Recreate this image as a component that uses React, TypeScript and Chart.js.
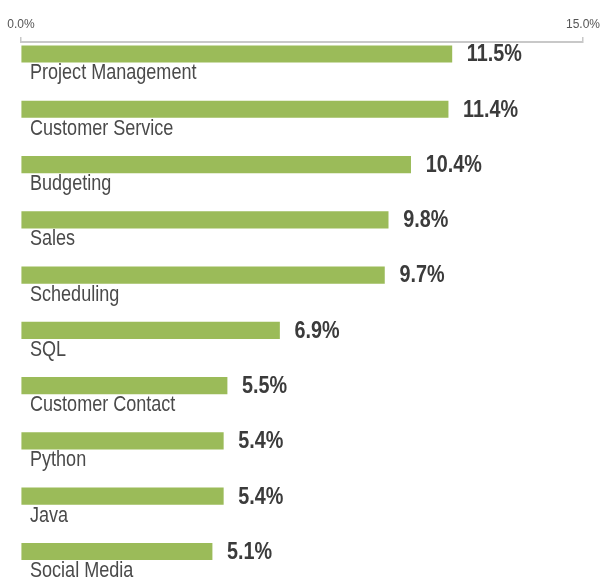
import React, { useEffect, useRef } from "react";
import { Chart, registerables } from "chart.js";

Chart.register(...registerables);

const categories = [
  "Project Management",
  "Customer Service",
  "Budgeting",
  "Sales",
  "Scheduling",
  "SQL",
  "Customer Contact",
  "Python",
  "Java",
  "Social Media",
];
const shares = [11.5, 11.4, 10.4, 9.8, 9.7, 6.9, 5.5, 5.4, 5.4, 5.1];
const axisMin = 0;
const axisMax = 15;

const FONT = "'Liberation Sans', Arial, sans-serif";
const NARROW = 0.82;
const NARROW_BOLD = 0.86;

const labelPlugin = {
  id: "barLabels",
  afterDatasetsDraw(chart: any) {
    const ctx = chart.ctx;
    const xs = chart.scales.x;
    const ys = chart.scales.y;
    shares.forEach((v, i) => {
      const y = ys.getPixelForValue(i);
      const vx = xs.getPixelForValue(v) + 15;
      ctx.save();
      ctx.translate(vx, y + 1);
      ctx.scale(NARROW_BOLD, 1);
      ctx.font = `bold 23px ${FONT}`;
      ctx.fillStyle = "#3b3b3b";
      ctx.textAlign = "left";
      ctx.textBaseline = "middle";
      ctx.fillText(v.toFixed(1) + "%", 0, 0);
      ctx.restore();

      ctx.save();
      ctx.translate(chart.chartArea.left + 9, y + 25.5);
      ctx.scale(NARROW, 1);
      ctx.font = `22px ${FONT}`;
      ctx.fillStyle = "#4a4a4a";
      ctx.textAlign = "left";
      ctx.textBaseline = "alphabetic";
      ctx.fillText(categories[i], 0, 0);
      ctx.restore();
    });
  },
};

export default function App() {
  const ref = useRef<HTMLCanvasElement | null>(null);
  useEffect(() => {
    document.body.style.margin = "0";
    const chart = new Chart(ref.current as HTMLCanvasElement, {
      type: "bar",
      data: {
        datasets: [
          {
            data: shares.map((v, i) => ({ x: v, y: i })),
            backgroundColor: "#9bbb59",
            borderWidth: 0,
            barThickness: 16.5,
          },
        ],
      } as any,
      options: {
        indexAxis: "y",
        responsive: false,
        animation: false,
        layout: { padding: { left: 21, right: 17, top: 0, bottom: 0 } },
        plugins: { legend: { display: false }, tooltip: { enabled: false } },
        scales: {
          x: {
            type: "linear",
            position: "top",
            min: axisMin,
            max: axisMax,
            afterFit: (s: any) => {
              s.height = 42;
              s.paddingLeft = 0;
              s.paddingRight = 0;
            },
            ticks: {
              stepSize: 15,
              padding: 5,
              color: "#555555",
              font: { family: FONT, size: 12 },
              callback: (v: any) => Number(v).toFixed(1) + "%",
            },
            grid: {
              display: true,
              drawOnChartArea: false,
              drawTicks: true,
              tickLength: 5,
              color: "#c8c8c8",
              lineWidth: 1.5,
            },
            border: { display: true, color: "#c8c8c8", width: 2 },
          },
          y: {
            type: "linear",
            display: false,
            reverse: true,
            offset: false,
            min: -0.217,
            max: 9.516,
          },
        },
      } as any,
      plugins: [labelPlugin],
    });
    return () => chart.destroy();
  }, []);
  return (
    <div style={{ width: 600, height: 580 }}>
      <canvas ref={ref} width={600} height={580} style={{ display: "block" }} />
    </div>
  );
}
